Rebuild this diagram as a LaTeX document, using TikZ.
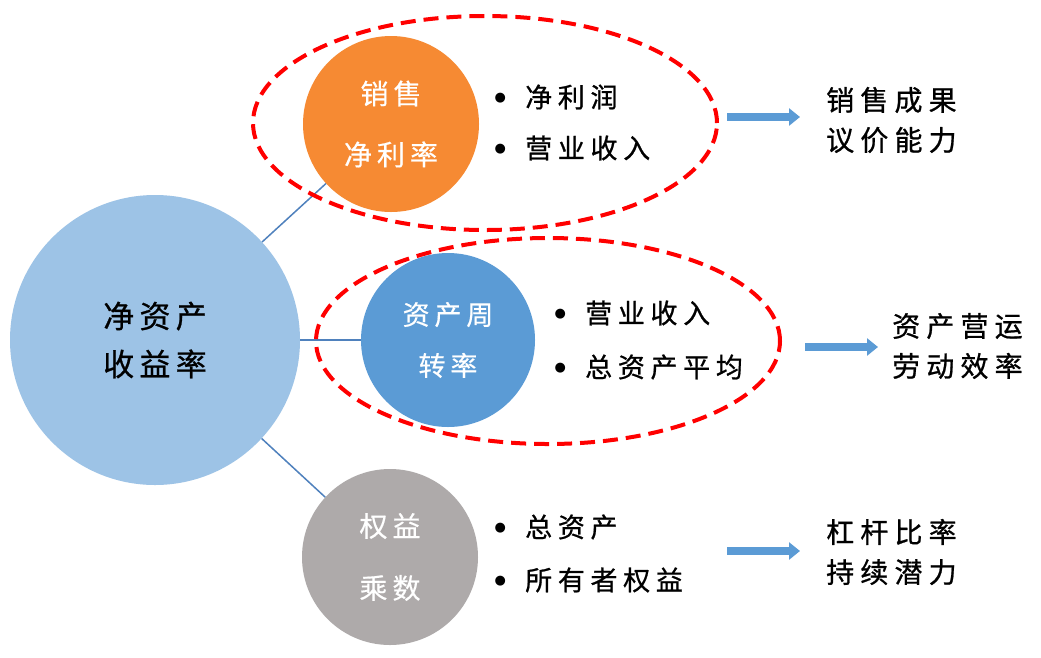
\documentclass[tikz,border=0pt]{standalone}
\usepackage{fontspec}
\setmainfont{Noto Sans CJK SC}
\newfontfamily\dejavu{DejaVu Sans}
\usetikzlibrary{arrows.meta,shapes.geometric}
\definecolor{bigblue}{HTML}{9DC3E6}
\definecolor{orangec}{HTML}{F68A33}
\definecolor{midblue}{HTML}{5B9BD5}
\definecolor{grayc}{HTML}{AEAAAA}
\definecolor{linec}{HTML}{4F81BD}
\definecolor{arrowc}{HTML}{5B9BD5}
\definecolor{redc}{HTML}{FF0000}
\newcommand{\bul}{\makebox[30pt][c]{\raisebox{6pt}{\dejavu\fontsize{13}{14}\selectfont ●}}\hspace{10pt}}
\begin{document}
\begin{tikzpicture}[x=1pt,y=-1pt,
 bubble/.style={circle, inner sep=0pt, align=center},
 ring/.style={ellipse, draw=redc, line width=4pt, dash pattern=on 15pt off 8pt, inner sep=0pt},
 link/.style={draw=linec, line width=1.5pt},
 fat/.style={draw=arrowc, line width=8pt, -{Triangle[width=17pt,length=11pt]}},
 item/.style={anchor=west, inner sep=0pt, font=\fontsize{27}{30}\selectfont\addfontfeature{LetterSpace=21,FakeBold=0.8}},
 result/.style={align=left, anchor=west, inner sep=0pt, font=\fontsize{28}{40}\selectfont\addfontfeature{LetterSpace=22,FakeBold=0.8}}
]
\useasboundingbox (0,0) rectangle (1041,657);
\fill[white] (0,0) rectangle (1041,657);

% circles
\node[bubble, fill=bigblue, minimum size=290pt, text=black,
  font=\fontsize{31}{48}\selectfont\addfontfeature{LetterSpace=17,FakeBold=0.8}] (roe) at (155,340) {净资产\\收益率};
\node[bubble, fill=orangec, minimum size=176pt, text=white,
  font=\fontsize{28}{61}\selectfont\addfontfeature{LetterSpace=18,FakeBold=0.5}] (npm) at (391,124) {销售\\净利率};
\node[bubble, fill=midblue, minimum size=174pt, text=white,
  font=\fontsize{27}{51}\selectfont\addfontfeature{LetterSpace=18,FakeBold=0.5}] (tat) at (448,340) {资产周\\转率};
\node[bubble, fill=grayc, minimum size=176pt, text=white,
  font=\fontsize{28}{62}\selectfont\addfontfeature{LetterSpace=18,FakeBold=0.5}] (em) at (390,557) {权益\\乘数};

% connectors
\draw[link] (roe) -- (npm);
\draw[link] (roe) -- (tat);
\draw[link] (roe) -- (em);

% dashed rings
\node[ring, minimum width=464pt, minimum height=214pt] (ring1) at (485,123) {};
\node[ring, minimum width=464pt, minimum height=206pt] (ring2) at (548,341) {};

% bullet items
\node[item] (i1) at (485,97) {\bul 净利润};
\node[item] (i2) at (485,148) {\bul 营业收入};
\node[item] (i3) at (545,313) {\bul 营业收入};
\node[item] (i4) at (545,367) {\bul 总资产平均};
\node[item] (i5) at (485,527) {\bul 总资产};
\node[item] (i6) at (485,580) {\bul 所有者权益};

% arrows
\coordinate (a1s) at (727,117); \coordinate (a1e) at (800,117);
\coordinate (a2s) at (805,347); \coordinate (a2e) at (878,347);
\coordinate (a3s) at (727,551); \coordinate (a3e) at (800,551);
\draw[fat] (a1s) -- (a1e);
\draw[fat] (a2s) -- (a2e);
\draw[fat] (a3s) -- (a3e);

% results
\node[result] (r1) at (826,120) {销售成果\\议价能力};
\node[result] (r2) at (892,346) {资产营运\\劳动效率};
\node[result] (r3) at (826,552) {杠杆比率\\持续潜力};
\end{tikzpicture}
\end{document}
